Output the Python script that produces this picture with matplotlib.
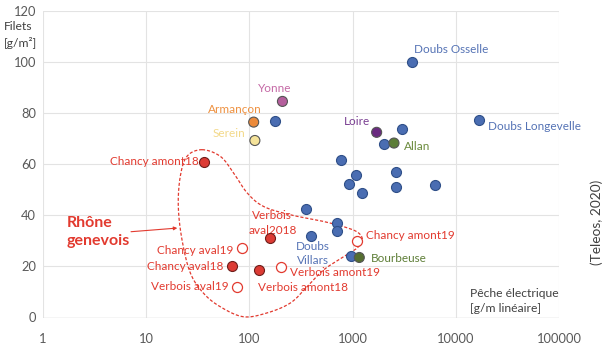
import numpy as np
import matplotlib
matplotlib.use("Agg")
import matplotlib.pyplot as plt

plt.rcParams['font.family'] = ['Lato', 'DejaVu Sans']

# stations du réseau (biomasse filets vs pêche électrique)
blue_x = [3800, 16600, 179, 3036, 2000, 765, 1077, 2614, 921, 1223, 2614, 6300, 357, 699, 699, 391, 971]
blue_y = [100.2, 77.5, 77.0, 73.8, 67.9, 61.8, 55.9, 56.9, 52.2, 48.9, 51.0, 52.0, 42.4, 36.9, 33.9, 32.1, 24.1]

# autres rivières, une couleur chacune
named = ["Yonne", "Armançon", "Serein", "Loire", "Allan", "Bourbeuse"]
named_x = [209, 110, 113, 1710, 2518, 1161]
named_y = [84.6, 76.5, 69.3, 72.5, 68.3, 23.5]
named_fill = ["#B45E9C", "#EC8A3A", "#F5E39A", "#6A2A80", "#5C7D37", "#556E30"]
named_text = ["#C56AA6", "#EE9140", "#F3D98A", "#7A3F92", "#6B8B3C", "#5F7F38"]

# Rhône genevois : pleins = 2018, vides = 2019
rh18_x = [36.6, 68, 123, 160]
rh18_y = [60.7, 20.3, 18.6, 31.0]
rh19_x = [85.5, 76, 203, 1093]
rh19_y = [27.4, 12.1, 19.9, 30.0]

# contour tireté autour du Rhône genevois (log10 x, y)
loop_lx = [1.541, 1.718, 1.845, 1.978, 2.136, 2.398, 2.718, 2.949, 3.058, 3.094, 3.046, 2.913,
           2.718, 2.560, 2.398, 2.172, 1.942, 1.718, 1.553, 1.427, 1.347, 1.311, 1.330, 1.395, 1.492]
loop_y = [65.7, 63.1, 56.7, 48.8, 43.5, 40.2, 37.6, 35.1, 33.1, 30.4, 27.3, 23.8,
          18.6, 12.1, 5.7, 1.8, 0.3, 4.2, 9.6, 17.5, 30.4, 43.5, 55.2, 63.1, 65.7]

RED = "#E23A2F"
BLUE_TXT = "#5573B5"


def closed_catmull_rom(px, py, n=20):
    # lissage d'une boucle fermée passant par les points
    px = np.asarray(px[:-1])
    py = np.asarray(py[:-1])
    m = len(px)
    xs, ys = [], []
    t = np.linspace(0, 1, n, endpoint=False)
    for i in range(m):
        p0 = np.array([px[i - 1], py[i - 1]])
        p1 = np.array([px[i], py[i]])
        p2 = np.array([px[(i + 1) % m], py[(i + 1) % m]])
        p3 = np.array([px[(i + 2) % m], py[(i + 2) % m]])
        for tt in t:
            pt = 0.5 * ((2 * p1) + (-p0 + p2) * tt + (2 * p0 - 5 * p1 + 4 * p2 - p3) * tt ** 2
                        + (-p0 + 3 * p1 - 3 * p2 + p3) * tt ** 3)
            xs.append(pt[0])
            ys.append(pt[1])
    xs.append(xs[0])
    ys.append(ys[0])
    return np.array(xs), np.array(ys)


fig = plt.figure(figsize=(6.09, 3.46), dpi=100)
ax = fig.add_axes([43 / 609, 1 - 317.5 / 346, (559 - 43) / 609, (317.5 - 11) / 346])

ax.set_xscale("log")
ax.set_xlim(1, 100000)
ax.set_ylim(0, 120)
ax.set_yticks([0, 20, 40, 60, 80, 100, 120])
ax.set_xticks([1, 10, 100, 1000, 10000, 100000])
ax.set_xticklabels(["1", "10", "100", "1000", "10000", "100000"])
ax.minorticks_off()
ax.grid(True, color="#E3E3E3", linewidth=0.8)
ax.set_axisbelow(True)
for s in ax.spines.values():
    s.set_visible(False)
ax.axhline(0, color="#D9D9D9", linewidth=1.0, zorder=1)
ax.tick_params(length=0, labelsize=9.3, labelcolor="#595959")
ax.tick_params(axis="x", pad=11)
ax.tick_params(axis="y", pad=5)

lx, ly = closed_catmull_rom(loop_lx, loop_y)
ax.plot(10 ** lx, ly, color=RED, linestyle=(0, (2.5, 1.5)), linewidth=0.9, zorder=2)

ax.scatter(blue_x, blue_y, s=52, color="#4A6DB2", edgecolors="#2F4F88", linewidths=0.8, zorder=3)
ax.scatter(named_x, named_y, s=52, c=named_fill, edgecolors="#555555", linewidths=0.8, zorder=4)
ax.scatter(rh18_x, rh18_y, s=52, color="#DC3B34", edgecolors="#6E1E1A", linewidths=0.8, zorder=4)
ax.scatter(rh19_x, rh19_y, s=52, color="white", edgecolors=RED, linewidths=0.9, zorder=4)

fs = 8.5
ax.text(3930, 105, "Doubs Osselle", color=BLUE_TXT, fontsize=fs, ha="left", va="center")
ax.text(20500, 74.7, "Doubs Longevelle", color=BLUE_TXT, fontsize=fs, ha="left", va="center")
ax.text(410, 25.1, "Doubs\nVillars", color=BLUE_TXT, fontsize=fs, ha="center", va="center",
        linespacing=1.4)

name_pos = [(175, 89.6, "center"), (73, 81.4, "center"), (92, 72.0, "right"),
            (1493, 76.7, "right"), (3128, 66.9, "left"), (1493, 23.0, "left")]
for nm, col, (tx, ty, ha) in zip(named, named_text, name_pos):
    ax.text(tx, ty, nm, color=col, fontsize=fs, ha=ha, va="center")

ax.text(32, 61.0, "Chancy amont18", color=RED, fontsize=fs, ha="right", va="center")
ax.text(1336, 32.0, "Chancy amont19", color=RED, fontsize=fs, ha="left", va="center")
ax.text(70, 26.1, "Chancy aval19", color=RED, fontsize=fs, ha="right", va="center")
ax.text(56, 19.8, "Chancy aval18", color=RED, fontsize=fs, ha="right", va="center")
ax.text(63.5, 12.0, "Verbois aval19", color=RED, fontsize=fs, ha="right", va="center")
ax.text(167, 37.0, "Verbois\naval2018", color=RED, fontsize=fs, ha="center", va="center",
        linespacing=1.4)
ax.text(250, 17.5, "Verbois amont19", color=RED, fontsize=fs, ha="left", va="center")
ax.text(122, 11.6, "Verbois amont18", color=RED, fontsize=fs, ha="left", va="center")

ax.text(1.71, 33.5, "Rhône\ngenevois", color=RED, fontsize=11.5, fontweight="bold",
        ha="left", va="center", linespacing=1.3)
ax.annotate("", xy=(21.3, 35.1), xytext=(6.7, 33.5),
            arrowprops=dict(arrowstyle="-|>", color=RED, linewidth=0.8, mutation_scale=5))

ax.text(13800, 6.5, "Pêche électrique\n[g/m linéaire]", color="#404040", fontsize=8.7,
        ha="left", va="center", linespacing=1.45)
fig.text(4 / 609, 1 - 35 / 346, "Filets\n[g/m²]", color="#404040", fontsize=8.7,
         ha="left", va="center", linespacing=1.5)
fig.text(597 / 609, 1 - 222 / 346, "(Teleos, 2020)", color="#404040", fontsize=9.8,
         rotation=90, ha="center", va="center")

fig.savefig("out.png", dpi=100)
